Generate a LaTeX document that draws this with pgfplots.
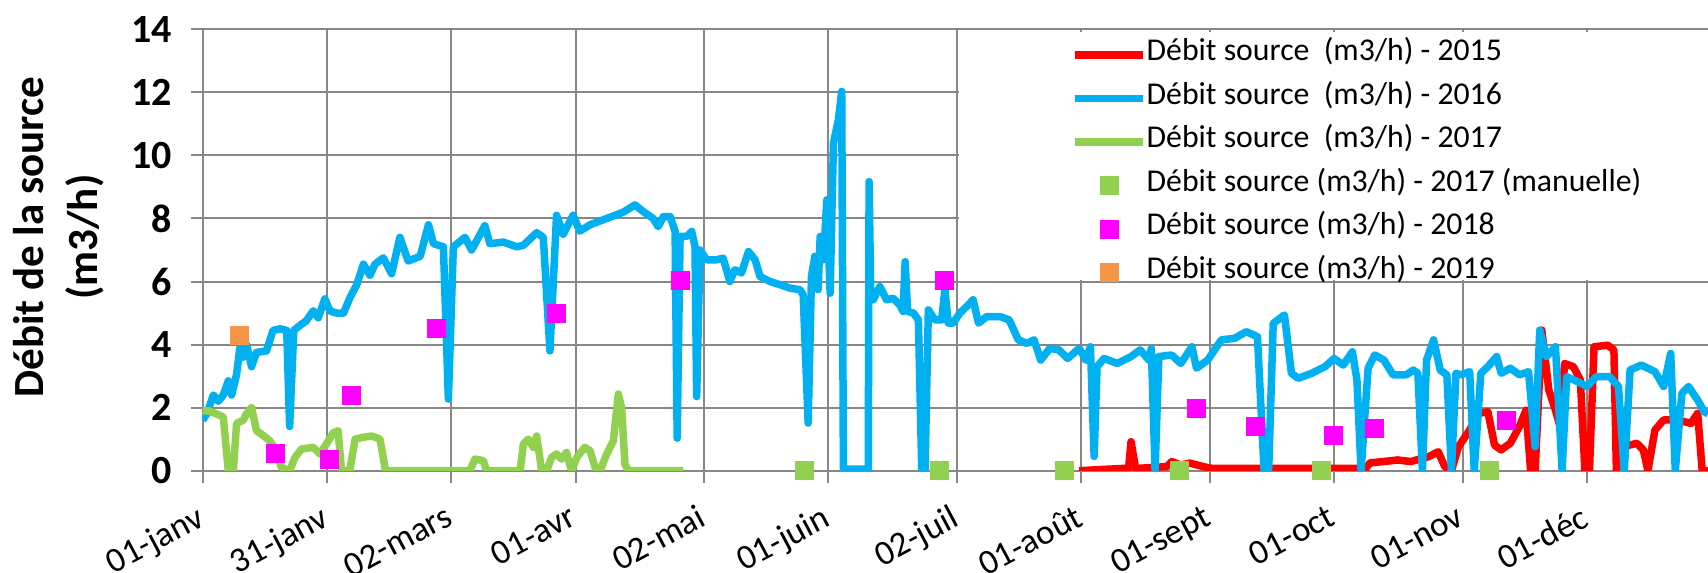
\documentclass[border=0pt]{standalone}
\usepackage{fontspec}
\setmainfont{Carlito}
\usepackage{pgfplots}
\pgfplotsset{compat=1.18}
\definecolor{cRed}{HTML}{FF0000}
\definecolor{cBlue}{HTML}{00B0F0}
\definecolor{cGreen}{HTML}{92D050}
\definecolor{cMag}{HTML}{FF00FF}
\definecolor{cOrange}{HTML}{F79646}
\definecolor{gridgray}{HTML}{878787}
\begin{document}
\begin{tikzpicture}
\begin{axis}[
  scale only axis, width=602.16pt, height=176.56pt,
  at={(0pt,0pt)}, anchor=south west,
  xmin=0, xmax=363.2, ymin=0, ymax=14,
  axis x line*=bottom, axis y line*=left,
  axis line style={draw=gridgray, line width=0.8pt, -},
  grid=major, major grid style={draw=gridgray, line width=0.8pt},
  tick align=outside, major tick length=4.8pt,
  tick style={draw=gridgray, line width=0.8pt},
  xtick={0,30,60,90,121,151,182,212,243,273,304,334},
  xticklabels={01-janv,31-janv,02-mars,01-avr,02-mai,01-juin,02-juil,01-août,01-sept,01-oct,01-nov,01-déc},
  ytick={0,2,4,6,8,10,12,14},
  /pgf/number format/assume math mode=true,
  yticklabel style={font=\fontsize{16}{18}\selectfont\bfseries, text=black, xshift=-4pt},
  xticklabel style={font=\fontsize{14}{16}\selectfont, text=black, inner sep=1pt, xshift=-2.6pt, yshift=-6.8pt, rotate=28, anchor=north east},
  ylabel={Débit de la source\\(m3/h)},
  ylabel style={at={(axis description cs:-0.0954,0.529)}, anchor=center, rotate=0, align=center, font=\fontsize{17.2}{21.6}\selectfont\bfseries},
  legend image code/.code={\draw[mark repeat=2,mark phase=2,#1] plot coordinates {(0pt,0pt) (13.5pt,0pt) (27pt,0pt)};},
  legend cell align=left,
  legend style={at={(rel axis cs:0.577,1)}, anchor=north west, yshift=-1.4pt, draw=none, fill=none, inner sep=0pt,
    font=\fontsize{12.7}{14}\selectfont, row sep=0pt,
    nodes={inner sep=0pt, text height=11pt, text depth=6.4pt},
    /tikz/column 2/.style={column sep=2pt}},
]
\fill[white] (rel axis cs:0.5025,0.9935) rectangle (rel axis cs:1,0.433);

\addplot[cRed, line width=3pt, line join=round] coordinates {
(211.5,0) (221.8,0.07) (223.4,0.07) (224,0.92) (225.1,0.07) (232.7,0.13) (233.8,0.29) (236,0.18) (238.2,0.24) (241.4,0.13) (243.6,0.07)
(280.6,0.07) (281.7,0.25) (285,0.29) (288.3,0.34) (291.5,0.29) (295.9,0.45) (298.1,0.6) (299.7,0.13) (301.3,0)
(303,0.76) (305.7,1.29) (307.9,1.82) (310.1,1.87) (311.7,0.81) (313.3,0.66) (315.5,0.87) (317.7,1.4) (319.3,1.92)
(320.4,0) (321.5,0.02) (323.1,4.46) (324.8,2.56) (326.4,1.92) (327.5,1.4) (328.6,3.4) (330.7,3.3) (332.4,2.88)
(333.5,0) (334.6,0) (335.7,3.93) (339,3.98) (340.5,3.83) (341.1,0) (342.7,0.76) (346,0.87) (347.6,0.66) (348.7,0)
(350.4,1.29) (352.5,1.61) (355.8,1.61) (359.1,1.5) (360.7,1.82) (361.8,0) (363.2,0)
};
\addlegendentry{Débit source~~(m3/h) - 2015}

\addplot[cBlue, line width=3pt, line join=round] coordinates {
(0,1.6) (1,1.8) (2.6,2.4) (3.8,2.2) (5,2.4) (6.2,2.85) (7,2.4) (8.2,3.05) (9,3.9) (9.8,3.6) (10.6,4.0) (11.8,3.3)
(13,3.75) (15.4,3.8) (17,4.45) (18.7,4.5) (20.3,4.45) (21,1.4) (22,4.45) (23.9,4.65) (25,4.75) (26.7,5.07) (27.9,4.85)
(29.5,5.45) (30.7,5.07) (32.3,5.0) (34,5.0) (35.6,5.5) (37.2,5.9) (38.8,6.55) (40.4,6.2) (41.6,6.55) (43.6,6.75)
(45.6,6.25) (47.6,7.4) (49.6,6.65) (52.5,6.8) (54.5,7.8) (55.7,7.2) (58.1,7.1) (59.3,2.27) (60.5,7.1) (63.3,7.4)
(64.9,7.0) (68.1,7.77) (69.3,7.2) (72.6,7.25) (75.8,7.1) (77.4,7.15) (80.6,7.55) (82.2,7.4) (83.8,3.8) (85.4,8.1)
(87,7.5) (89.4,8.1) (91,7.6) (93.5,7.8) (97.5,8.0) (101.5,8.2) (104.3,8.43) (106.3,8.22) (108.7,8.0) (109.9,7.74)
(111.2,8.06) (112.8,8.06) (114,7.59) (114.5,1.03) (115.2,7.43) (116.8,7.43) (118,7.59) (118.8,7.11) (119.2,2.35)
(120,7.0) (121.6,6.69) (124,6.69) (125.6,6.74) (127.2,6.0) (128.4,6.37) (130,6.27) (131.7,6.95) (133.3,6.69)
(134.5,6.16) (136.9,6.0) (139.3,5.9) (141.7,5.79) (144.1,5.74) (144.9,5.58) (146.1,1.51) (146.9,6.16) (147.7,6.8)
(148.5,5.74) (149,7.43) (149.8,6.69) (150.6,8.59) (151.4,5.63) (152.2,10.39) (153.4,11.13) (154.2,12.03)
(154.6,0.05) (160.6,0.05) (160.8,9.17) (161.2,5.6) (161.8,5.42) (163.4,5.84) (165,5.42) (166.6,5.47) (168.2,5.26)
(169,5.05) (169.5,6.63) (170.1,5.05) (171.5,5.0) (172.7,4.78) (173.5,0.05) (174.3,0.05) (175.1,5.1) (176.7,4.78)
(178.3,4.78) (179.1,5.74) (179.9,4.68) (181.1,4.68) (182.7,5.0) (184.3,5.2) (185.9,5.42) (187.2,4.68) (189.2,4.89)
(192.4,4.89) (194.6,4.78) (196.8,4.15) (198.9,4.04) (200.6,4.15) (202.2,3.51) (204.4,3.88) (206.6,3.83) (208.7,3.56)
(211.5,3.88) (213.1,3.51) (214.2,3.93) (215.1,0.45) (215.8,3.3) (217.5,3.56) (220.7,3.4) (224,3.62) (226.2,3.83)
(228.3,3.51) (228.9,3.88) (229.8,0) (230.7,3.62) (233.8,3.67) (236,3.4) (238.7,3.93) (239.8,3.25) (242.5,3.51)
(245.8,4.15) (249,4.2) (251.8,4.41) (254.5,4.25) (256.1,0) (257.2,0) (258.3,4.67) (261,4.94) (262.7,3.09) (264.3,2.93)
(267.6,3.09) (270.8,3.3) (273,3.56) (275.2,3.35) (277.4,3.77) (278.5,2.88) (279.5,0) (281.2,3.25) (282.8,3.67)
(285,3.51) (287.2,3.04) (290.4,3.04) (292.1,3.19) (293.2,3.09) (294.3,0) (295.3,3.51) (297,4.15) (298.6,3.19)
(300.2,3.04) (301.3,0) (302.4,3.09) (303.5,3.04) (305.7,3.14) (306.8,0) (308.4,3.09) (310.1,3.3) (312.2,3.62)
(313.3,3.09) (315.5,3.25) (317.7,3.04) (319.9,3.14) (321.5,0.76) (322.6,4.46) (324.2,3.62) (326.4,3.93) (328.0,0)
(329.1,2.98) (331.8,2.82) (334,2.67) (336.2,2.98) (339.5,2.98) (341.6,2.67) (343,0) (344.4,3.19) (347.1,3.35)
(350.4,3.14) (352.5,2.67) (354.2,3.72) (355.3,0) (356.9,2.45) (358.5,2.67) (360.7,2.24) (362.3,1.87) (363.2,1.8)
};
\addlegendentry{Débit source~~(m3/h) - 2016}

\addplot[cGreen, line width=3pt, line join=round] coordinates {
(0,1.9) (1.4,1.9) (3.4,1.8) (5,1.7) (6.2,0) (7.4,0) (8.2,1.5) (9.8,1.6) (10.6,1.8) (11.8,2.0) (13,1.27) (14.2,1.16)
(16.2,0.95) (17.9,0.63) (19,0.1) (21,0) (22.3,0.42) (23.9,0.69) (26.7,0.74) (28.3,0.53) (29.9,0.85) (31.5,1.2)
(32.7,1.27) (33.5,0) (35.5,0) (36.8,1.0) (38.8,1.06) (40.8,1.1) (42.8,1.0) (44,0.1) (44.4,0) (64.5,0) (65.7,0.37)
(67.7,0.32) (68.5,0) (76.6,0) (77.4,0.85) (78.6,1.0) (79.8,0.74) (80.6,1.1) (81.8,0) (83,0) (84.2,0.42) (85.4,0.53)
(86.6,0.37) (87.8,0.58) (89,0) (90.3,0.42) (92.2,0.74) (93.5,0.63) (94.7,0.1) (95.9,0) (97.5,0.53) (99.1,0.95)
(100.3,2.43) (101.1,2.0) (101.9,0.2) (102.7,0) (116,0)
};
\addlegendentry{Débit source~~(m3/h) - 2017}

\addplot[only marks, mark=square*, mark size=3.6pt, color=cGreen] coordinates {
(145.3,0) (177.9,0) (208,0) (235.8,0) (270,0) (310.6,0)
};
\addlegendentry{Débit source (m3/h) - 2017 (manuelle)}

\addplot[only marks, mark=square*, mark size=3.6pt, color=cMag] coordinates {
(17.7,0.53) (30.6,0.37) (35.9,2.4) (56.5,4.5) (85.4,5.0) (115.4,6.03) (179.1,6.03) (239.8,1.98) (254,1.4) (272.8,1.13) (282.8,1.34) (314.6,1.59)
};
\addlegendentry{Débit source (m3/h) - 2018}

\addplot[only marks, mark=square*, mark size=3.6pt, color=cOrange] coordinates {
(8.8,4.3)
};
\addlegendentry{Débit source (m3/h) - 2019}
\end{axis}
\pgfresetboundingbox
\path[use as bounding box] (-81.04pt,-40.92pt) rectangle (602.16pt,188.28pt);
\end{tikzpicture}
\end{document}
